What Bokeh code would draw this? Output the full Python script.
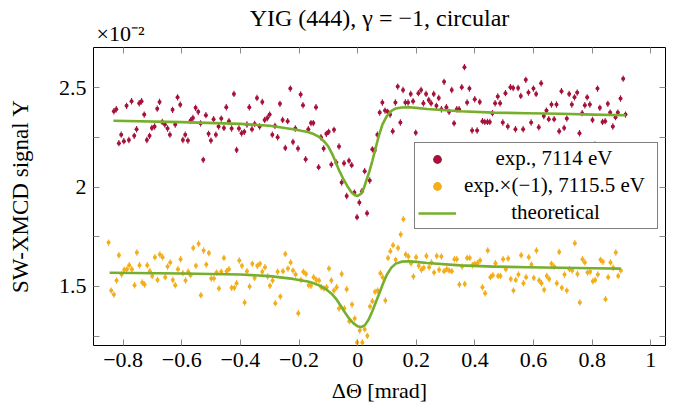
from bokeh.plotting import figure
from bokeh.models import Range1d, LinearAxis, FixedTicker, Title, Legend, LegendItem
from bokeh.embed import file_html
from bokeh.resources import INLINE

# ---------------- data ----------------
red_x = [-0.8315, -0.8235, -0.8144, -0.8065, -0.7974, -0.7883, -0.7803, -0.7712, -0.7621, -0.7541,
         -0.7450, -0.7371, -0.7280, -0.7189, -0.7098, -0.7018, -0.6927, -0.6836, -0.6757, -0.6666,
         -0.6575, -0.6484, -0.6404, -0.6313, -0.6222, -0.6143, -0.6052, -0.5961, -0.5881, -0.5790,
         -0.5699, -0.5619, -0.5528, -0.5437, -0.5358, -0.5267, -0.5176, -0.5085, -0.5005, -0.4914,
         -0.4835, -0.4744,
         -0.4652, -0.4561, -0.4481, -0.4390, -0.4299, -0.4220, -0.4129, -0.4049, -0.3958, -0.3867,
         -0.3776, -0.3696, -0.3605, -0.3514, -0.3434, -0.3344, -0.3253, -0.3173, -0.3082, -0.3002,
         -0.2911, -0.2820, -0.2729, -0.2650, -0.2559, -0.2468, -0.2388, -0.2297, -0.2206, -0.2126,
         -0.2035, -0.1944, -0.1865, -0.1774, -0.1683, -0.1592, -0.1512, -0.1421, -0.1331, -0.1251,
         -0.1160, -0.1069, -0.0989,
         -0.0898, -0.0807, -0.0727, -0.0636, -0.0545, -0.0465, -0.0374, -0.0295, -0.0204, -0.0113,
         -0.0022, 0.0058, 0.0149, 0.0240, 0.0320, 0.0411, 0.0502, 0.0581, 0.0672, 0.0752,
         0.0843, 0.0934, 0.1025, 0.1105, 0.1196, 0.1287, 0.1366, 0.1457, 0.1548, 0.1628,
         0.1719, 0.1810, 0.1890, 0.1981, 0.2072, 0.2163, 0.2242, 0.2333, 0.2424, 0.2504,
         0.2595, 0.2686, 0.2766,
         0.2857, 0.2948, 0.3027, 0.3118, 0.3209, 0.3289, 0.3380, 0.3460, 0.3551, 0.3642,
         0.3733, 0.3812, 0.3903, 0.3994, 0.4074, 0.4165, 0.4256, 0.4336, 0.4427, 0.4507,
         0.4597, 0.4688, 0.4779, 0.4859, 0.4950, 0.5041, 0.5121, 0.5212, 0.5303, 0.5382,
         0.5473, 0.5564, 0.5644, 0.5735, 0.5826, 0.5917, 0.5996, 0.6087, 0.6178, 0.6258,
         0.6349, 0.6440, 0.6519,
         0.6611, 0.6702, 0.6782, 0.6873, 0.6952, 0.7043, 0.7134, 0.7214, 0.7305, 0.7396,
         0.7487, 0.7567, 0.7658, 0.7749, 0.7828, 0.7919, 0.8010, 0.8090, 0.8181, 0.8261,
         0.8352, 0.8442, 0.8533, 0.8613, 0.8704, 0.8795, 0.8874, 0.8965, 0.9056, 0.9136]
red_y = [2.383, 2.393, 2.222, 2.265, 2.232, 2.410, 2.238, 2.433, 2.259, 2.292,
         2.423, 2.433, 2.366, 2.238, 2.259, 2.299, 2.306, 2.396, 2.430, 2.329,
         2.316, 2.296, 2.265, 2.390, 2.316, 2.453, 2.416, 2.238, 2.265, 2.235,
         2.336, 2.349, 2.400, 2.380, 2.322, 2.138, 2.363, 2.269, 2.235, 2.343,
         2.265, 2.306,
         2.346, 2.299, 2.403, 2.333, 2.296, 2.470, 2.188, 2.296, 2.272, 2.279,
         2.316, 2.403, 2.292, 2.319, 2.450, 2.306, 2.430, 2.339, 2.349, 2.366,
         2.265, 2.309, 2.252, 2.420, 2.339, 2.198, 2.333, 2.497, 2.228, 2.296,
         2.195, 2.467, 2.413, 2.141, 2.292, 2.323, 2.323, 2.403, 2.101, 2.252,
         2.195, 2.269, 2.279,
         2.114, 2.289, 2.124, 2.205, 2.024, 2.121, 1.956, 2.134, 2.111, 1.973,
         1.849, 1.923, 1.980, 2.081, 1.869, 2.034, 2.191, 2.185, 2.265, 2.376,
         2.427, 2.386, 2.380, 2.366, 2.282, 2.427, 2.507, 2.326, 2.490, 2.427,
         2.427, 2.470, 2.433, 2.275, 2.474, 2.490, 2.423, 2.470, 2.440, 2.423,
         2.470, 2.410, 2.450,
         2.393, 2.531, 2.403, 2.380, 2.490, 2.322, 2.393, 2.393, 2.504, 2.605,
         2.427, 2.497, 2.286, 2.443, 2.286, 2.430, 2.333, 2.329, 2.329, 2.329,
         2.373, 2.423, 2.457, 2.423, 2.326, 2.474, 2.306, 2.504, 2.500, 2.292,
         2.500, 2.460, 2.292, 2.541, 2.477, 2.326, 2.497, 2.470, 2.302, 2.524,
         2.359, 2.386, 2.343,
         2.417, 2.343, 2.417, 2.282, 2.484, 2.299, 2.346, 2.470, 2.417, 2.453,
         2.477, 2.272, 2.373, 2.413, 2.453, 2.417, 2.339, 2.215, 2.497, 2.400,
         2.329, 2.333, 2.420, 2.376, 2.306, 2.353, 2.376, 2.447, 2.547, 2.366]

orange_x = [-0.8497, -0.8406, -0.8315, -0.8224, -0.8144, -0.8053, -0.7962, -0.7871, -0.7792, -0.7701,
            -0.7610, -0.7530, -0.7439, -0.7348, -0.7268, -0.7177, -0.7086, -0.7007, -0.6916, -0.6825,
            -0.6745, -0.6654, -0.6563, -0.6484, -0.6393, -0.6302, -0.6222, -0.6131, -0.6040, -0.5961,
            -0.5870, -0.5779, -0.5699, -0.5608, -0.5517, -0.5426, -0.5346, -0.5255, -0.5164, -0.5073,
            -0.4994, -0.4903, -0.4812, -0.4732,
            -0.4652, -0.4561, -0.4470, -0.4390, -0.4299, -0.4208, -0.4129, -0.4038, -0.3947, -0.3856,
            -0.3776, -0.3685, -0.3594, -0.3514, -0.3423, -0.3332, -0.3253, -0.3162, -0.3071, -0.2991,
            -0.2900, -0.2809, -0.2729, -0.2638, -0.2547, -0.2468, -0.2377, -0.2286, -0.2206, -0.2115,
            -0.2024, -0.1933, -0.1854, -0.1763, -0.1672, -0.1592, -0.1501, -0.1410, -0.1319, -0.1240,
            -0.1149, -0.1058, -0.0978,
            -0.0898, -0.0807, -0.0716, -0.0636, -0.0545, -0.0454, -0.0374, -0.0283, -0.0192, -0.0101,
            -0.0020, 0.0070, 0.0161, 0.0240, 0.0331, 0.0422, 0.0502, 0.0593, 0.0684, 0.0775,
            0.0854, 0.0945, 0.1036, 0.1116, 0.1207, 0.1298, 0.1378, 0.1469, 0.1560, 0.1640,
            0.1731, 0.1822, 0.1902, 0.1993, 0.2084, 0.2175, 0.2255, 0.2346, 0.2437, 0.2516,
            0.2607, 0.2698, 0.2778,
            0.2855, 0.2948, 0.3039, 0.3119, 0.3210, 0.3301, 0.3380, 0.3471, 0.3562, 0.3653,
            0.3733, 0.3824, 0.3915, 0.3994, 0.4085, 0.4176, 0.4256, 0.4347, 0.4438, 0.4529,
            0.4609, 0.4700, 0.4791, 0.4870, 0.4961, 0.5052, 0.5132, 0.5223, 0.5314, 0.5394,
            0.5485, 0.5576, 0.5655, 0.5746, 0.5837, 0.5928, 0.6008, 0.6099, 0.6190, 0.6269,
            0.6360, 0.6451, 0.6531,
            0.6611, 0.6702, 0.6793, 0.6873, 0.6964, 0.7055, 0.7134, 0.7225, 0.7316, 0.7407,
            0.7498, 0.7578, 0.7669, 0.7749, 0.7840, 0.7931, 0.8022, 0.8101, 0.8192, 0.8283,
            0.8363, 0.8454, 0.8545, 0.8624, 0.8715, 0.8806, 0.8886, 0.8977]
orange_y = [1.721, 1.479, 1.459, 1.530, 1.657, 1.560, 1.584, 1.587, 1.607, 1.587,
            1.506, 1.671, 1.607, 1.520, 1.510, 1.607, 1.577, 1.553, 1.647, 1.533,
            1.661, 1.647, 1.547, 1.600, 1.621, 1.533, 1.506, 1.587, 1.637, 1.567,
            1.530, 1.574, 1.557, 1.694, 1.604, 1.715, 1.456, 1.681, 1.610, 1.668,
            1.540, 1.540, 1.570, 1.490,
            1.574, 1.644, 1.577, 1.587, 1.493, 1.493, 1.516, 1.631, 1.604, 1.419,
            1.577, 1.500, 1.614, 1.543, 1.604, 1.614, 1.574, 1.597, 1.550, 1.503,
            1.530, 1.416, 1.574, 1.449, 1.577, 1.664, 1.590, 1.621, 1.580, 1.560,
            1.365, 1.533, 1.574, 1.563, 1.506, 1.503, 1.547, 1.533, 1.530, 1.496,
            1.490, 1.496, 1.590,
            1.530, 1.479, 1.496, 1.389, 1.563, 1.389, 1.486, 1.325, 1.409, 1.338,
            1.218, 1.278, 1.218, 1.285, 1.251, 1.399, 1.426, 1.473, 1.479, 1.567,
            1.547, 1.429, 1.644, 1.678, 1.708, 1.634, 1.694, 1.762, 1.839, 1.661,
            1.651, 1.617, 1.550, 1.647, 1.604, 1.584, 1.594, 1.654, 1.597, 1.621,
            1.570, 1.654, 1.584,
            1.651, 1.577, 1.587, 1.580, 1.577, 1.637, 1.637, 1.510, 1.600, 1.513,
            1.644, 1.644, 1.607, 1.614, 1.617, 1.631, 1.496, 1.466, 1.681, 1.547,
            1.557, 1.617, 1.553, 1.553, 1.637, 1.587, 1.641, 1.537, 1.479, 1.533,
            1.560, 1.657, 1.516, 1.547, 1.647, 1.610, 1.543, 1.681, 1.530, 1.516,
            1.483, 1.553, 1.537,
            1.614, 1.600, 1.516, 1.674, 1.493, 1.560, 1.479, 1.587, 1.580, 1.718,
            1.563, 1.419, 1.637, 1.621, 1.570, 1.574, 1.526, 1.533, 1.560, 1.634,
            1.624, 1.436, 1.547, 1.621, 1.594, 1.671, 1.553, 1.580]

red_err = 0.016
orange_err = 0.016

theo_red_x = [-0.833, -0.6, -0.4, -0.3, -0.22, -0.17, -0.15, -0.13, -0.115, -0.1, -0.087, -0.075,
              -0.065, -0.05, -0.035, -0.02, -0.008, 0.0, 0.01, 0.02, 0.03, 0.04, 0.05, 0.06, 0.072,
              0.085, 0.1, 0.115, 0.13, 0.15, 0.175, 0.2, 0.237, 0.35, 0.464, 0.578, 0.692, 0.805, 0.914]
theo_red_y = [2.335, 2.328, 2.319, 2.31, 2.292, 2.278, 2.268, 2.252, 2.232, 2.205, 2.168, 2.128,
              2.090, 2.045, 2.005, 1.972, 1.959, 1.956, 1.965, 1.990, 2.035, 2.080, 2.132, 2.190, 2.258,
              2.318, 2.360, 2.385, 2.397, 2.402, 2.403, 2.400, 2.394, 2.383, 2.376, 2.373, 2.370, 2.366,
              2.363]
theo_orange_x = [-0.846, -0.6, -0.4, -0.3, -0.22, -0.17, -0.15, -0.13, -0.11, -0.09, -0.075, -0.06,
                 -0.045, -0.03, -0.015, 0.0, 0.012, 0.025, 0.038, 0.05, 0.062, 0.075, 0.088, 0.1,
                 0.115, 0.13, 0.15, 0.175, 0.2, 0.237, 0.35, 0.464, 0.578, 0.692, 0.805, 0.897]
theo_orange_y = [1.569, 1.565, 1.560, 1.552, 1.538, 1.525, 1.516, 1.504, 1.488, 1.465, 1.440, 1.408,
                 1.372, 1.340, 1.315, 1.299, 1.295, 1.305, 1.335, 1.375, 1.420, 1.470, 1.520, 1.560,
                 1.595, 1.615, 1.625, 1.627, 1.624, 1.618, 1.606, 1.600, 1.597, 1.594, 1.592, 1.590]

x_ticks = [-0.8, -0.6, -0.4, -0.2, 0.0, 0.2, 0.4, 0.6, 0.8, 1.0]
x_tick_labels = ["\u22120.8", "\u22120.6", "\u22120.4", "\u22120.2", "0", "0.2", "0.4", "0.6", "0.8", "1"]
y_ticks = [1.25, 1.5, 1.75, 2.0, 2.25, 2.5]
y_tick_labels = ["", "1.5", "", "2", "", "2.5"]

legend_labels = ["exp., 7114 eV", "exp.\u00d7(\u22121), 7115.5 eV", "theoretical"]
title_text = "YIG (444), \u03b3 = \u22121, circular"
scale_text = "\u00d710\u207b\u00b2"

RED = "#A5123C"
ORANGE = "#F2AE1C"
GREEN = "#76AF2C"
FONT = "Liberation Serif"
FS = "22px"

p = figure(width=684, height=410, x_range=Range1d(-0.901, 1.050), y_range=Range1d(1.2025, 2.704),
           output_backend="svg", toolbar_location=None,
           min_border_left=93, min_border_right=19, min_border_top=47, min_border_bottom=65)
p.background_fill_color = "white"
p.border_fill_color = "white"
p.outline_line_color = "black"
p.outline_line_width = 1
p.xgrid.visible = False
p.ygrid.visible = False


def style_axis(ax, ticks, labels, show_labels=True):
    ax.ticker = FixedTicker(ticks=ticks)
    ax.major_label_overrides = {t: l for t, l in zip(ticks, labels)}
    ax.major_tick_in = 6
    ax.major_tick_out = 0
    ax.minor_tick_line_color = None
    ax.major_tick_line_color = "#8a8a8a"
    ax.major_tick_line_width = 1
    ax.axis_line_color = None
    ax.major_label_text_font = FONT
    ax.major_label_text_font_size = FS if show_labels else "0px"
    ax.major_label_text_color = "black"
    ax.axis_label_text_font = FONT
    ax.axis_label_text_font_size = FS
    ax.axis_label_text_font_style = "normal"
    ax.axis_label_text_color = "black"
    if not show_labels:
        ax.major_label_standoff = 0


style_axis(p.xaxis[0], x_ticks, x_tick_labels)
style_axis(p.yaxis[0], y_ticks, y_tick_labels)
p.xaxis[0].axis_label = "\u0394\u0398 [mrad]"
p.yaxis[0].axis_label = "SW-XMCD signal \u03a5"
p.yaxis[0].axis_label_text_font_size = "23px"
p.xaxis[0].major_label_standoff = 7
p.xaxis[0].axis_label_standoff = 8
p.yaxis[0].major_label_standoff = 7
p.yaxis[0].axis_label_standoff = 23

top_ax = LinearAxis()
style_axis(top_ax, x_ticks, ["" for _ in x_ticks], show_labels=False)
p.add_layout(top_ax, "above")
right_ax = LinearAxis()
style_axis(right_ax, y_ticks, ["" for _ in y_ticks], show_labels=False)
p.add_layout(right_ax, "right")

# titles above the frame: scale factor (inner), main title (outer, allowed to overlap)
p.add_layout(Title(text=scale_text, align="left", offset=3, standoff=4, vertical_align="bottom",
                   text_font=FONT, text_font_size="22px", text_font_style="normal",
                   text_color="black"), "above")
p.add_layout(Title(text=title_text, align="center", standoff=-28, vertical_align="bottom",
                   text_font=FONT, text_font_size="24px", text_font_style="normal",
                   text_color="black"), "above")

# error bars
p.segment(x0=red_x, y0=[v - red_err for v in red_y], x1=red_x, y1=[v + red_err for v in red_y],
          line_color=RED, line_width=1.1)
p.segment(x0=orange_x, y0=[v - orange_err for v in orange_y], x1=orange_x,
          y1=[v + orange_err for v in orange_y], line_color=ORANGE, line_width=1.1)
r_red = p.scatter(red_x, red_y, marker="circle", size=4, fill_color=RED, line_color=None)
r_orange = p.scatter(orange_x, orange_y, marker="circle", size=4, fill_color=ORANGE, line_color=None)
r_theo = p.line(theo_red_x, theo_red_y, line_color=GREEN, line_width=2.6, line_join="round")
p.line(theo_orange_x, theo_orange_y, line_color=GREEN, line_width=2.6, line_join="round")

# legend (labels padded with no-break spaces so that they appear centred, as in the reference)
pads = [6, 0, 9]
legend = Legend(items=[LegendItem(label="\u00a0" * n + t, renderers=[r])
                       for n, t, r in zip(pads, legend_labels, [r_red, r_orange, r_theo])],
                location=(321, 116), padding=3, spacing=2, margin=0,
                glyph_width=38, glyph_height=22, label_height=22, label_width=190, label_standoff=8,
                label_text_font=FONT, label_text_font_size="21px", label_text_color="black",
                border_line_color="black", border_line_width=1,
                background_fill_color="white", background_fill_alpha=1.0)
p.add_layout(legend, "center")

open("out.html", "w").write(file_html(p, INLINE))
